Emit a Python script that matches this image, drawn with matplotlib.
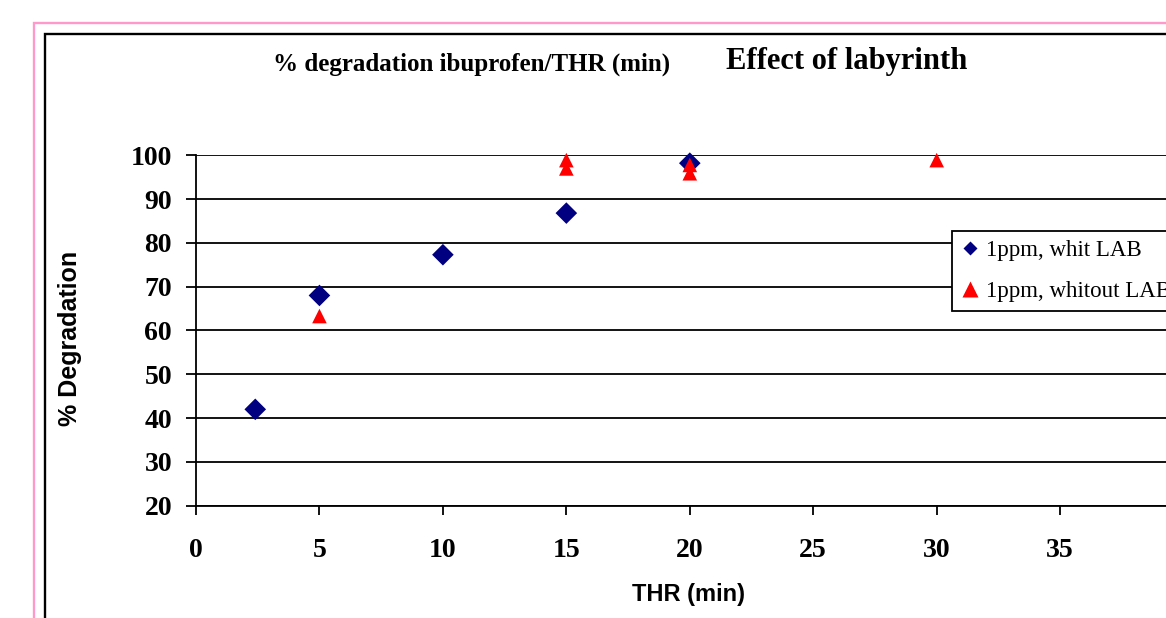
import matplotlib.pyplot as plt
from matplotlib.lines import Line2D
from matplotlib.patches import Rectangle

# data
thr_lab = [2.4, 5, 10, 15, 20]
deg_lab = [42, 68, 77.3, 86.8, 98.2]

thr_nolab = [5, 15, 15, 20, 20, 30]
deg_nolab = [63.3, 98.9, 97.0, 97.8, 95.9, 98.9]

x_ticks = [0, 5, 10, 15, 20, 25, 30, 35]
y_ticks = [20, 30, 40, 50, 60, 70, 80, 90, 100]

W, H = 1166, 618
fig = plt.figure(figsize=(W / 100, H / 100), dpi=100)

# outer pink frame + inner black frame (both run off the right/bottom edges)
fig.patches.append(Rectangle((33.5 / W, -0.2), 2.0, 1 - 22.5 / H + 0.2,
                             transform=fig.transFigure, fill=False,
                             edgecolor='#FF99CC', linewidth=1.7))
fig.patches.append(Rectangle((45 / W, -0.2), 2.0, 1 - 33.5 / H + 0.2,
                             transform=fig.transFigure, fill=False,
                             edgecolor='black', linewidth=1.7))

ax = fig.add_axes([196 / W, 1 - 505.7 / H, (1183.6 - 196) / W, (505.7 - 155.3) / H])

ax.scatter(thr_lab, deg_lab, marker='D', s=11 ** 2, color='#000080',
           edgecolors='none', zorder=3, clip_on=False)
ax.scatter(thr_nolab, deg_nolab, marker='^', s=10.5 ** 2, color='#FF0000',
           edgecolors='none', zorder=4, clip_on=False)

ax.set_xlim(0, 40)
ax.set_ylim(20, 100)
ax.set_xticks(x_ticks)
ax.set_yticks(y_ticks)
ax.yaxis.grid(True, color='black', linewidth=1.3)
ax.set_axisbelow(True)
for s in ['top', 'right']:
    ax.spines[s].set_visible(False)
for s in ['left', 'bottom']:
    ax.spines[s].set_linewidth(1.3)

serif = ['Liberation Serif', 'DejaVu Serif']
sans = ['Liberation Sans', 'DejaVu Sans']

ax.tick_params(axis='y', direction='out', length=7.2, width=1.3, pad=10)
ax.tick_params(axis='x', direction='out', length=6.5, width=1.3, pad=17)
for lab in ax.get_xticklabels() + ax.get_yticklabels():
    lab.set_fontfamily(serif)
    lab.set_fontweight('bold')
    lab.set_fontsize(20)

fig.text(688 / W, 1 - 594 / H, 'THR (min)', ha='center', va='center',
         fontsize=17, fontweight='bold', family=sans)
fig.text(70 / W, 1 - 338 / H, '% Degradation', ha='center', va='center',
         rotation=90, fontsize=18, fontweight='bold', family=sans)

fig.text(472 / W, 1 - 64 / H, '% degradation ibuprofen/THR (min)',
         ha='center', va='center', fontsize=18, fontweight='bold', family=serif)
fig.text(847 / W, 1 - 62 / H, 'Effect of labyrinth',
         ha='center', va='center', fontsize=22, fontweight='bold', family=serif)

handles = [
    Line2D([], [], marker='D', linestyle='none', color='#000080',
           markeredgecolor='none', markersize=7, label='1ppm, whit LAB'),
    Line2D([], [], marker='^', linestyle='none', color='#FF0000',
           markeredgecolor='none', markersize=11, label='1ppm, whitout LAB'),
]
leg = fig.legend(handles=handles, loc='upper left',
                 bbox_to_anchor=(952 / W, 1 - 231 / H),
                 prop={'family': serif, 'size': 16.5},
                 frameon=True, fancybox=False, framealpha=1,
                 edgecolor='black', borderaxespad=0, borderpad=0.4,
                 handlelength=0.8, handletextpad=0.3, labelspacing=0.87)
leg.get_frame().set_linewidth(1.3)

fig.savefig('out.png', dpi=100)
